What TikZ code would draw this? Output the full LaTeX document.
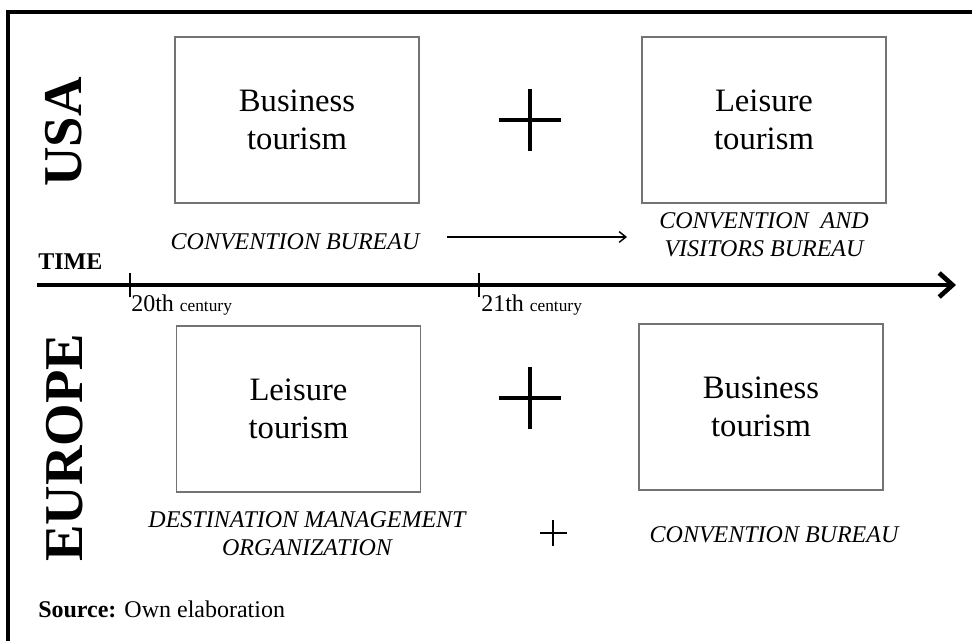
\documentclass[tikz,border=0pt]{standalone}
\usepackage{fontspec}
\setmainfont{Liberation Serif}
\usetikzlibrary{arrows.meta}

\begin{document}
\begin{tikzpicture}[x=0.75pt,y=-0.75pt,
    tourbox/.style={draw=black!55, line width=0.9pt, minimum width=183pt,
      minimum height=124.5pt, align=center, font=\fontsize{24.5}{28.5}\selectfont},
    bodylabel/.style={align=center, font=\fontsize{18}{21}\selectfont\itshape},
    region/.style={rotate=90, font=\fontsize{41}{45}\selectfont\bfseries},
    plusbar/.style={line width=3pt},
    smallplus/.style={line width=1.1pt},
    timeline/.style={line width=3.5pt, -{Straight Barb[length=10pt,width=18pt]}},
    timetick/.style={line width=1.3pt},
    flow/.style={line width=1.1pt, -{Straight Barb[length=5pt,width=8pt]}}]

    % Drawing Parameters
    \pgfmathsetmacro{\timey}{285}%
    \pgfmathsetmacro{\tickhalf}{12}%
    \pgfmathsetmacro{\plushalf}{31}%

    \useasboundingbox (0,0) rectangle (972,641);

    % Frame
    \draw[line width=2.3pt] (8,641) -- (8,12) -- (972,12);

    % Regions
    \node[region] (usa) at (64,132) {USA};
    \node[region] (europe) at (65,448) {EUROPE};

    % Boxes
    \node[tourbox] (usabiz) at (297,120) {Business\\tourism};
    \node[tourbox] (usaleis) at (764,120) {Leisure\\tourism};
    \node[tourbox] (euleis) at (298.5,409) {Leisure\\tourism};
    \node[tourbox] (eubiz) at (761,407) {Business\\tourism};

    % Plus signs
    \draw[plusbar] (530,120-\plushalf) -- (530,120+\plushalf);
    \draw[plusbar] (530-\plushalf,120) -- (530+\plushalf,120);
    \draw[plusbar] (530,398-\plushalf) -- (530,398+\plushalf);
    \draw[plusbar] (530-\plushalf,398) -- (530+\plushalf,398);
    \draw[smallplus] (553,520) -- (553,546);
    \draw[smallplus] (540,533) -- (567,533);

    % Labels
    \node[bodylabel] (cbusa) at (295,242) {CONVENTION BUREAU};
    \node[bodylabel] (cvbusa) at (764,235) {CONVENTION~~AND\\VISITORS BUREAU};
    \node[bodylabel] (dmoeu) at (307,534) {DESTINATION MANAGEMENT\\ORGANIZATION};
    \node[bodylabel] (cbeu) at (774,535) {CONVENTION BUREAU};

    \coordinate (arrstart) at (447,237);
    \coordinate (arrend) at (627,237);
    \draw[flow] (arrstart) -- (arrend);

    % Time axis
    \coordinate (tstart) at (37,\timey);
    \coordinate (tend) at (956,\timey);
    \coordinate (c20) at (130,\timey);
    \coordinate (c21) at (479,\timey);
    \draw[timeline] (tstart) -- (tend);
    \draw[timetick] (c20) ++(0,-\tickhalf) -- ++(0,2*\tickhalf);
    \draw[timetick] (c21) ++(0,-\tickhalf) -- ++(0,2*\tickhalf);

    \node[anchor=base west, inner sep=0pt, font=\fontsize{18}{21}\selectfont\bfseries] (time) at (38,270) {TIME};
    \node[anchor=base west, inner sep=0pt, font=\fontsize{18}{21}\selectfont] (l20) at (131,312)
      {20th {\fontsize{13}{15}\selectfont century}};
    \node[anchor=base west, inner sep=0pt, font=\fontsize{18}{21}\selectfont] (l21) at (481,312)
      {21th {\fontsize{13}{15}\selectfont century}};

    % Source
    \node[anchor=base west, inner sep=0pt, font=\fontsize{18}{21}\selectfont] (source) at (38,618)
      {\textbf{Source:} Own elaboration};
  \end{tikzpicture}
\end{document}
